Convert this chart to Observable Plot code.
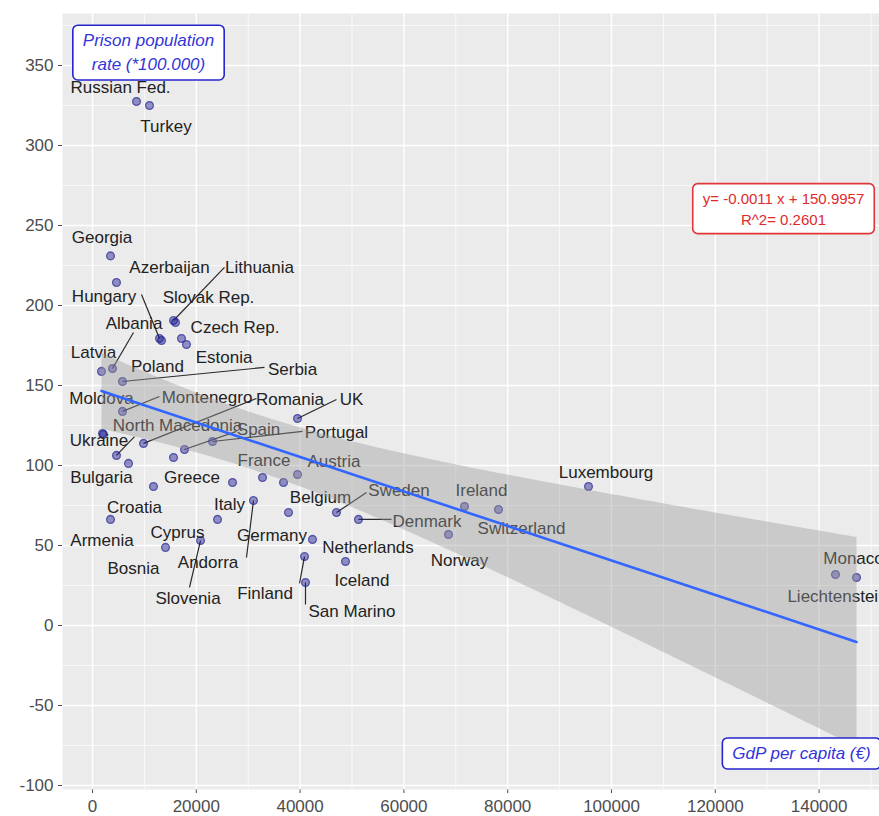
<!DOCTYPE html>
<html>
<head>
<meta charset="utf-8">
<script src="https://cdn.jsdelivr.net/npm/d3@7"></script>
<script src="https://cdn.jsdelivr.net/npm/@observablehq/plot@0.6"></script>
<style>
  body { margin: 0; background: #ffffff; }
  svg { display: block; }
</style>
</head>
<body>
<script>
// ---- data ----
const countries = ["Russian Fed.","Turkey","Georgia","Azerbaijan","Lithuania","Slovak Rep.","Hungary","Poland","Czech Rep.","Estonia","Latvia","Albania","Serbia","Montenegro","Moldova","North Macedonia","Ukraine","Bulgaria","Romania","Greece","Spain","Portugal","UK","Croatia","Italy","France","Belgium","Austria","Armenia","Cyprus","Bosnia","Slovenia","Andorra","Germany","Sweden","Denmark","Netherlands","Finland","Iceland","San Marino","Ireland","Switzerland","Norway","Luxembourg","Monaco","Liechtenstein"];
const gdpPerCapita = [8480,10980,3470,4620,15610,15990,12910,13300,17150,18110,1730,3850,5780,5780,1930,2120,4620,6940,9830,15610,17730,23120,39500,11750,26980,32760,36800,39500,3470,24090,14070,20810,31020,37770,47010,51250,42390,40850,48750,41040,71680,78230,68590,95570,143160,147210];
const prisonRate = [327.5,325,231,214.4,190.6,189.4,179.4,178.1,179.4,175.6,158.8,160.6,152.5,133.8,120,119.4,106.3,101.3,113.8,105,110,115,129.4,86.9,89.4,92.5,89.4,94.4,66.3,66.3,48.8,53.1,78.1,70.6,70.6,66.3,53.8,43.1,40,26.9,74.4,72.5,56.9,86.9,31.9,30];

// repelled label anchors (data units), same order as countries
const labelGdp = [5395,14160,1830,14840,32180,22350,2216,12520,27460,25340,193,7996,38540,22060,1734,16380,1252,1734,38050,19170,31990,47010,49900,8093,26400,33050,43930,46530,1830,16380,7900,18400,22260,34590,59060,64450,53080,33240,51930,50000,74950,82660,70710,98940,146630,143550];
const labelRate = [336.3,311.9,242.5,223.8,223.8,205,205.6,161.9,186.3,167.5,170.6,188.8,160,142.5,141.9,125,115.6,92.5,141.3,92.5,122.5,120.6,141.3,73.8,75.6,103.1,80,102.5,53.1,58.1,35.6,16.9,39.4,56.3,84.4,65,48.8,20,28.1,8.8,84.4,60.6,40.6,95.6,41.9,18.1];
// leader-segment ends (data units), null = no segment
const segGdp = [null,null,null,null,25430,null,9440,null,null,null,null,7900,33140,12910,null,null,8090,null,31600,null,27750,40460,47010,null,null,null,null,null,null,null,null,18690,29670,null,52790,57610,null,39890,null,41040,null,null,null,null,null,null];
const segRate = [null,null,null,null,223.8,null,206.9,null,null,null,null,183.1,161.3,143.1,null,null,118.1,null,141.9,null,121.3,121.3,141.3,null,null,null,null,null,null,null,null,23.8,42.5,null,83.1,66.3,null,26.3,null,13.1,null,null,null,null,null,null];

const xTicks = [0,20000,40000,60000,80000,100000,120000,140000];
const xMinor = [10000,30000,50000,70000,90000,110000,130000,150000];
const yTicks = [-100,-50,0,50,100,150,200,250,300,350];
const yMinor = [-75,-25,25,75,125,175,225,275,325,375];

const yTitle = "Prison population\nrate (*100.000)";
const xTitle = "GdP per capita (€)";
const equationText = "y= -0.0011 x + 150.9957\nR^2= 0.2601";
const yTitlePos = [10790, 359.4];
const xTitlePos = [136610, -80];
const equationPos = [133140, 261.3];

// ---- table built from the arrays ----
const rows = countries.map((name, i) => ({
  name,
  gdp: gdpPerCapita[i],
  rate: prisonRate[i],
  lx: labelGdp[i],
  ly: labelRate[i],
  sx: segGdp[i],
  sy: segRate[i]
}));

const chart = Plot.plot({
  width: 879,
  height: 816,
  marginLeft: 62,
  marginRight: 0,
  marginTop: 13,
  marginBottom: 27,
  style: {fontFamily: "'Liberation Sans', Arial, sans-serif", fontSize: "17px", color: "#4d4d4d", background: "#ffffff"},
  x: {domain: [-5780, 151640], ticks: xTicks, tickFormat: d => String(d), tickSize: 4, tickPadding: 6, label: null},
  y: {domain: [-102.5, 382.5], ticks: yTicks, tickFormat: d => String(d), tickSize: 4, tickPadding: 5, label: null},
  marks: [
    Plot.frame({fill: "#ebebeb", stroke: "none"}),
    Plot.ruleX(xMinor, {stroke: "#ffffff", strokeWidth: 0.7}),
    Plot.ruleY(yMinor, {stroke: "#ffffff", strokeWidth: 0.7}),
    Plot.ruleX(xTicks, {stroke: "#ffffff", strokeWidth: 1.4}),
    Plot.ruleY(yTicks, {stroke: "#ffffff", strokeWidth: 1.4}),
    Plot.link(rows.filter(d => d.sx != null), {x1: "gdp", y1: "rate", x2: "sx", y2: "sy", stroke: "#2a2a2a", strokeWidth: 1.2}),
    Plot.dot(rows, {x: "gdp", y: "rate", r: 3.9, fill: "#1c1a8f", fillOpacity: 0.45, stroke: "#1c1a8f", strokeOpacity: 0.65, strokeWidth: 1.3}),
    Plot.text(rows, {x: "lx", y: "ly", text: "name", fontSize: 17, fill: "#222222", textAnchor: "middle"}),
    Plot.linearRegressionY(rows, {x: "gdp", y: "rate", stroke: "#3366ff", strokeWidth: 2.6, fill: "#999999", fillOpacity: 0.4}),
    Plot.text([{t: yTitle, x: yTitlePos[0], y: yTitlePos[1]}], {x: "x", y: "y", text: "t", fontSize: 17, fontStyle: "italic", fill: "#3434d8", lineHeight: 1.4, ariaDescription: "box:#2626d0"}),
    Plot.text([{t: xTitle, x: xTitlePos[0], y: xTitlePos[1]}], {x: "x", y: "y", text: "t", fontSize: 17, fontStyle: "italic", fill: "#3434d8", ariaDescription: "box:#2626d0"}),
    Plot.text([{t: equationText, x: equationPos[0], y: equationPos[1]}], {x: "x", y: "y", text: "t", fontSize: 15, fill: "#e02a2a", lineHeight: 1.4, ariaDescription: "box:#e0353a"})
  ]
});

document.body.append(chart);

// draw rounded label boxes behind the annotation texts
chart.querySelectorAll("g[aria-description^='box:']").forEach(g => {
  const color = g.getAttribute("aria-description").slice(4);
  g.querySelectorAll("text").forEach(t => {
    const b = t.getBBox();
    const padX = 10, padY = 6;
    const r = document.createElementNS("http://www.w3.org/2000/svg", "rect");
    r.setAttribute("x", b.x - padX);
    r.setAttribute("y", b.y - padY);
    r.setAttribute("width", b.width + 2 * padX);
    r.setAttribute("height", b.height + 2 * padY);
    r.setAttribute("rx", 5);
    r.setAttribute("fill", "#ffffff");
    r.setAttribute("stroke", color);
    r.setAttribute("stroke-width", 1.6);
    if (t.getAttribute("transform")) r.setAttribute("transform", t.getAttribute("transform"));
    t.parentNode.insertBefore(r, t);
  });
});
</script>
</body>
</html>
